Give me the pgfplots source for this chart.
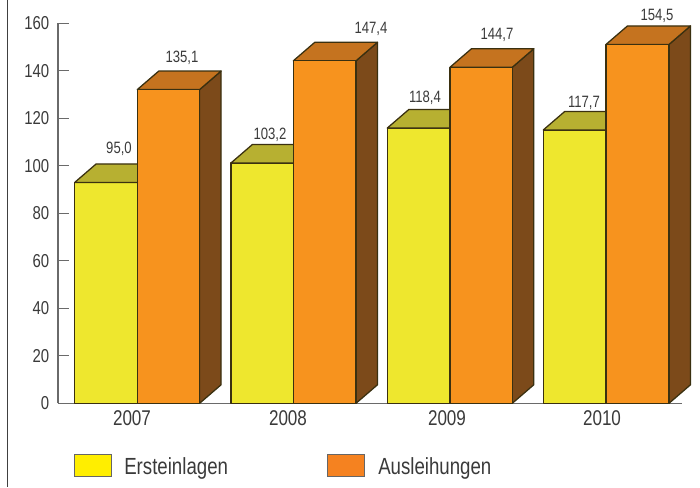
\documentclass[border=0pt]{standalone}
\usepackage{pgfplots}
\pgfplotsset{compat=1.18}
\usepackage{fontspec}
\setmainfont[FakeStretch=0.8]{Liberation Sans}
\definecolor{yfront}{HTML}{EEE72E}
\definecolor{ytop}{HTML}{B7B031}
\definecolor{ofront}{HTML}{F7931E}
\definecolor{otop}{HTML}{C5731F}
\definecolor{oside}{HTML}{7C4A1A}
\definecolor{edge}{HTML}{3A3010}
\definecolor{txt}{HTML}{3A3A3A}
\definecolor{ax}{HTML}{6A6A6A}
\pgfplotsset{
  face/.style={draw=edge,line width=0.95pt,line join=round,fill=#1},
}
\begin{document}
\begin{tikzpicture}[x=0.75pt,y=0.75pt]
\useasboundingbox (0,0) rectangle (700,487);
\begin{axis}[
  at={(43.5pt,62.775pt)},anchor=south west,
  scale only axis,width=468pt,height=285pt,
  xmin=58,xmax=682,ymin=0,ymax=160,
  clip=false,
  axis lines=left,
  axis line style={draw=ax,line width=1pt,-},
  xtick={132,288,447,602},
  xticklabels={2007,2008,2009,2010},
  xtick style={draw=none},
  ytick={0,20,...,160},
  ytick style={draw=ax,line width=0.9pt},
  tick align=inside,
  major tick length=8.5pt,
  /pgf/number format/assume math mode=true,
  yticklabel style={font=\fontsize{14}{16}\selectfont,text=txt,xshift=-3pt},
  xticklabel style={font=\fontsize{16}{18}\selectfont,text=txt,yshift=-2pt},
]
% frame line at the far left of the picture
\addplot[draw=black!75,line width=1pt] coordinates {(7.5,170.2) (7.5,-35.3)};
% 2007
\addplot[face=yfront] coordinates {(74.7,0) (137.3,0) (137.3,93.0) (74.7,93.0)} -- cycle;
\addplot[face=ytop] coordinates {(74.7,93.0) (96.2,100.8) (158.8,100.8) (137.3,93.0)} -- cycle;
\addplot[face=oside] coordinates {(199.6,0) (221.1,7.8) (221.1,139.9) (199.6,132.1)} -- cycle;
\addplot[face=otop] coordinates {(137.3,132.1) (158.8,139.9) (221.1,139.9) (199.6,132.1)} -- cycle;
\addplot[face=ofront] coordinates {(137.3,0) (199.6,0) (199.6,132.1) (137.3,132.1)} -- cycle;
% 2008
\addplot[face=yfront] coordinates {(231,0) (293.3,0) (293.3,101.2) (231,101.2)} -- cycle;
\addplot[face=ytop] coordinates {(231,101.2) (252.5,109) (314.8,109) (293.3,101.2)} -- cycle;
\addplot[face=oside] coordinates {(356,0) (377.5,7.8) (377.5,152) (356,144.2)} -- cycle;
\addplot[face=otop] coordinates {(293.3,144.2) (314.8,152) (377.5,152) (356,144.2)} -- cycle;
\addplot[face=ofront] coordinates {(293.3,0) (356,0) (356,144.2) (293.3,144.2)} -- cycle;
% 2009
\addplot[face=yfront] coordinates {(387.3,0) (450,0) (450,115.9) (387.3,115.9)} -- cycle;
\addplot[face=ytop] coordinates {(387.3,115.9) (408.8,123.7) (471.5,123.7) (450,115.9)} -- cycle;
\addplot[face=oside] coordinates {(512.3,0) (533.8,7.8) (533.8,149.3) (512.3,141.5)} -- cycle;
\addplot[face=otop] coordinates {(450,141.5) (471.5,149.3) (533.8,149.3) (512.3,141.5)} -- cycle;
\addplot[face=ofront] coordinates {(450,0) (512.3,0) (512.3,141.5) (450,141.5)} -- cycle;
% 2010
\addplot[face=yfront] coordinates {(543.3,0) (606,0) (606,115.1) (543.3,115.1)} -- cycle;
\addplot[face=ytop] coordinates {(543.3,115.1) (564.8,122.9) (627.5,122.9) (606,115.1)} -- cycle;
\addplot[face=oside] coordinates {(669,0) (690.5,7.8) (690.5,158.9) (669,151.1)} -- cycle;
\addplot[face=otop] coordinates {(606,151.1) (627.5,158.9) (690.5,158.9) (669,151.1)} -- cycle;
\addplot[face=ofront] coordinates {(606,0) (669,0) (669,151.1) (606,151.1)} -- cycle;
% value labels
\begin{scope}[every node/.style={font=\fontsize{12.3}{14}\selectfont,text=txt,inner sep=0pt,yshift=-1pt}]
\node at (axis cs:119,107.6) {95,0};
\node at (axis cs:182,146) {135,1};
\node at (axis cs:270,113.5) {103,2};
\node at (axis cs:371,158.2) {147,4};
\node at (axis cs:425,129.1) {118,4};
\node at (axis cs:497,155.7) {144,7};
\node at (axis cs:584,127) {117,7};
\node at (axis cs:657,163.7) {154,5};
\end{scope}
\end{axis}
% legend
\draw[draw=black!60,line width=0.75pt,fill={rgb,255:red,255;green,238;blue,0}] (74.5,32.5) rectangle (111.5,10.5);
\node[anchor=west,inner sep=0pt,font=\fontsize{17.5}{19}\selectfont,text=txt] at (124,19) {Ersteinlagen};
\draw[draw=black!60,line width=0.75pt,fill={rgb,255:red,245;green,130;blue,32}] (327.5,32.5) rectangle (364.5,10.5);
\node[anchor=west,inner sep=0pt,font=\fontsize{17.5}{19}\selectfont,text=txt] at (378,19) {Ausleihungen};
\end{tikzpicture}
\end{document}
